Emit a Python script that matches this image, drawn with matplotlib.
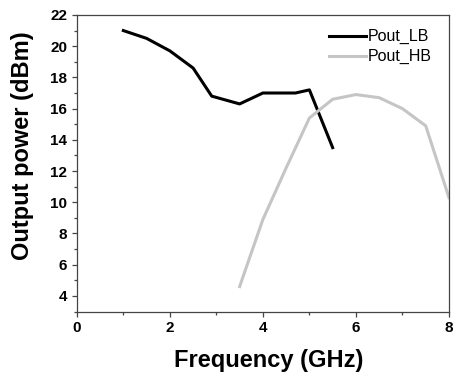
import matplotlib
matplotlib.use('Agg')
import matplotlib.pyplot as plt
from matplotlib.ticker import MultipleLocator

plt.rcParams['font.family'] = ['Liberation Sans', 'DejaVu Sans']

# Low band output power
freq_lb = [1, 1.5, 2, 2.5, 2.9, 3.5, 4, 4.7, 5, 5.5]
pout_lb = [21.0, 20.5, 19.7, 18.6, 16.8, 16.3, 17.0, 17.0, 17.2, 13.5]

# High band output power
freq_hb = [3.5, 4, 4.5, 5, 5.5, 6, 6.5, 7, 7.5, 8]
pout_hb = [4.6, 8.9, 12.2, 15.4, 16.6, 16.9, 16.7, 16.0, 14.9, 10.3]

fig = plt.figure(figsize=(4.6, 3.74), dpi=100)
ax = fig.add_axes([0.167, 0.167, 0.809, 0.793])

ax.plot(freq_lb, pout_lb, color='black', lw=2.2, label='Pout_LB')
ax.plot(freq_hb, pout_hb, color='#c5c5c5', lw=2.2, label='Pout_HB')

ax.set_xlim(0, 8)
ax.set_ylim(3, 22)
ax.xaxis.set_major_locator(MultipleLocator(2))
ax.xaxis.set_minor_locator(MultipleLocator(1))
ax.yaxis.set_minor_locator(MultipleLocator(1))
ax.set_yticks(range(4, 23, 2))

for s in ax.spines.values():
    s.set_color('#444444')
    s.set_linewidth(0.9)
ax.tick_params(which='major', direction='out', length=3.5, width=0.9, color='#444444',
               labelsize=11, pad=3.5)
ax.tick_params(which='minor', direction='out', length=2.2, width=0.9, color='#444444')
for lab in ax.get_xticklabels() + ax.get_yticklabels():
    lab.set_fontweight('bold')

ax.set_xlabel('Frequency (GHz)', fontsize=17, fontweight='bold')
ax.set_ylabel('Output power (dBm)', fontsize=17, fontweight='bold')
ax.xaxis.set_label_coords(0.516, -0.125)
ax.yaxis.set_label_coords(-0.115, 0.558)

ax.legend(loc='upper right', bbox_to_anchor=(0.955, 0.952), frameon=False,
          fontsize=11.5, handlelength=2.3, handletextpad=0.15,
          labelspacing=0.3, borderpad=0, borderaxespad=0)

fig.savefig('out.png', dpi=100)
